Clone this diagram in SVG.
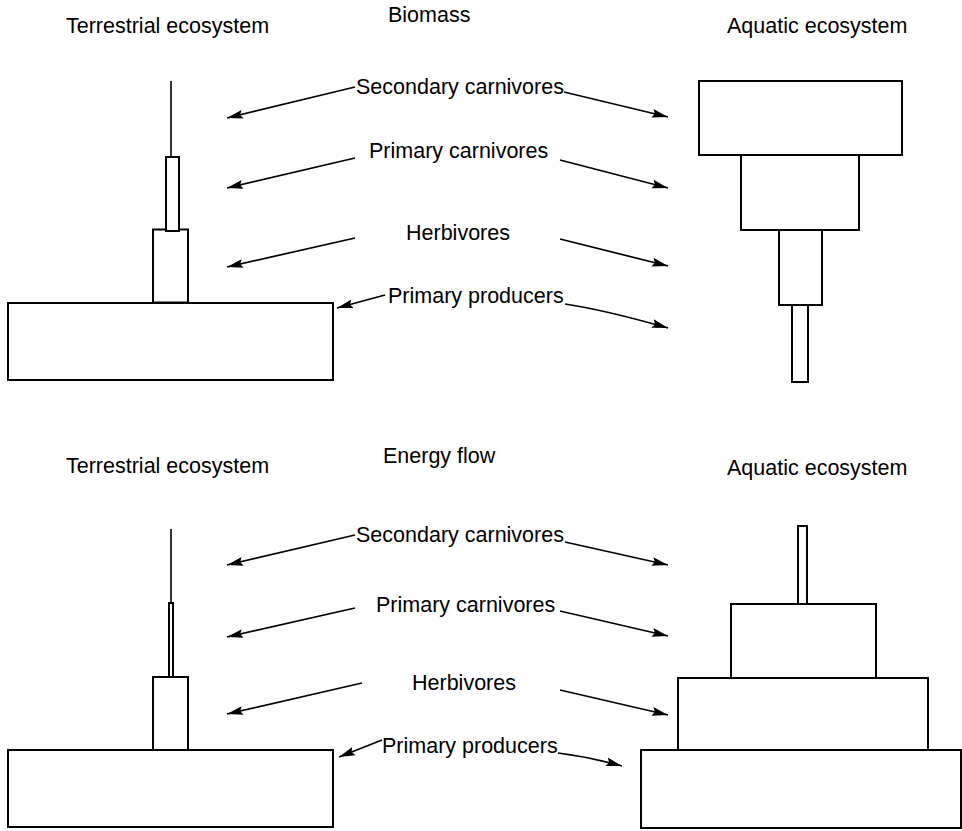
<svg xmlns="http://www.w3.org/2000/svg" width="962" height="831" viewBox="0 0 962 831">
<style>
text{font-family:"Liberation Sans",Arial,Helvetica,sans-serif;font-size:21.5px;fill:#000}
.b{fill:#fff;stroke:#000;stroke-width:2}
.ln{fill:none;stroke:#000;stroke-width:1.6}
.ar{fill:none;stroke:#000;stroke-width:1.7;marker-end:url(#ah)}
</style>
<defs>
<marker id="ah" markerWidth="17" markerHeight="10" refX="16" refY="5" orient="auto" markerUnits="userSpaceOnUse">
<path d="M0,0.6 L16,5 L0,9.4 L2.5,5 z" fill="#000"/>
</marker>
</defs>
<rect width="962" height="831" fill="#fff"/>

<!-- headings -->
<g id="headings">
<text x="66" y="33">Terrestrial ecosystem</text>
<text x="388" y="22">Biomass</text>
<text x="727" y="33">Aquatic ecosystem</text>
<text x="66" y="473">Terrestrial ecosystem</text>
<text x="383" y="463">Energy flow</text>
<text x="727" y="475">Aquatic ecosystem</text>
</g>

<!-- labels -->
<g id="labels">
<text x="356" y="94">Secondary carnivores</text>
<text x="369" y="158">Primary carnivores</text>
<text x="406" y="240">Herbivores</text>
<text x="388" y="303">Primary producers</text>
<text x="356" y="542">Secondary carnivores</text>
<text x="376" y="612">Primary carnivores</text>
<text x="412" y="690">Herbivores</text>
<text x="382" y="753">Primary producers</text>
</g>

<!-- biomass terrestrial -->
<g id="bio-terr">
<line class="ln" x1="171" y1="81" x2="171" y2="157"/>
<rect class="b" x="153" y="229.5" width="35" height="73"/>
<rect class="b" x="166" y="157" width="13" height="74"/>
<rect class="b" x="8" y="303" width="325" height="77"/>
</g>

<!-- biomass aquatic -->
<g id="bio-aq">
<rect class="b" x="699" y="81" width="203" height="74"/>
<rect class="b" x="741" y="155" width="118" height="75"/>
<rect class="b" x="779" y="230" width="43" height="75"/>
<rect class="b" x="792" y="305" width="16" height="77"/>
</g>

<!-- energy terrestrial -->
<g id="en-terr">
<line class="ln" x1="171" y1="529" x2="171" y2="603"/>
<rect class="b" x="169" y="603" width="4" height="74"/>
<rect class="b" x="153" y="677" width="35" height="73"/>
<rect class="b" x="8" y="750" width="325" height="77"/>
</g>

<!-- energy aquatic -->
<g id="en-aq">
<rect class="b" x="798" y="526" width="9" height="78"/>
<rect class="b" x="731" y="604" width="145" height="74"/>
<rect class="b" x="678" y="678" width="250" height="72"/>
<rect class="b" x="641" y="750" width="320" height="78"/>
</g>

<!-- connectors -->
<g id="connectors">
<line class="ar" x1="355" y1="87" x2="227" y2="118"/>
<line class="ar" x1="355" y1="158" x2="227" y2="188"/>
<line class="ar" x1="355" y1="238" x2="227" y2="267"/>
<line class="ar" x1="385" y1="295" x2="337" y2="308"/>
<line class="ar" x1="564" y1="92" x2="668" y2="117"/>
<line class="ar" x1="560" y1="160" x2="668" y2="188"/>
<line class="ar" x1="560" y1="239" x2="668" y2="266"/>
<path class="ar" d="M565,304 Q605,310 668,328"/>

<line class="ar" x1="355" y1="535" x2="227" y2="565"/>
<line class="ar" x1="355" y1="608" x2="227" y2="637"/>
<line class="ar" x1="362" y1="683" x2="227" y2="714"/>
<line class="ar" x1="382" y1="740" x2="339" y2="757"/>
<line class="ar" x1="565" y1="542" x2="668" y2="565"/>
<line class="ar" x1="560" y1="611" x2="668" y2="636"/>
<line class="ar" x1="560" y1="690" x2="668" y2="715"/>
<path class="ar" d="M558,753 Q590,757 622,766"/>
</g>
</svg>
